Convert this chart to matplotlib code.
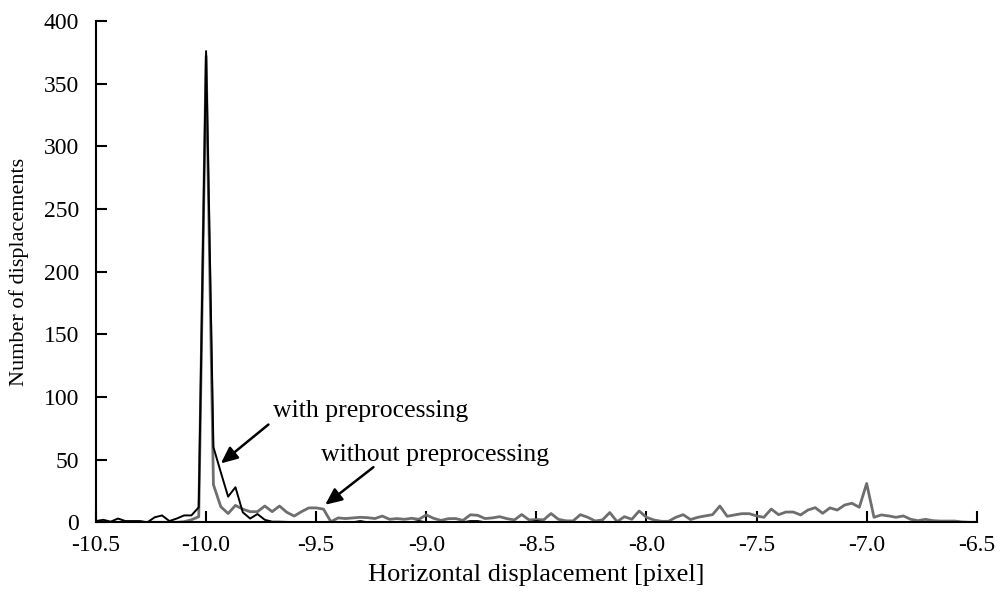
import numpy as np
import matplotlib.pyplot as plt

plt.rcParams['font.family'] = ['Liberation Serif', 'DejaVu Serif']

# bins of 1/30 pixel from -10.5 to -6.5
x = -10.5 + np.arange(121) / 30.0

with_pre = [1, 2, 0.5, 3, 1, 1, 1, 0, 4, 5.5,
            1, 3, 5.5, 5.5, 12, 376, 60, 40, 20.5, 28,
            8, 3, 6.6, 2, 0.5, 0.5, 0.3, 0, 0, 0,
            0, 0, 0, 0, 0, 0, 1, 0, 0, 0,
            0, 0, 0, 0, 1, 0, 0, 0, 0, 0,
            0, 1, 1, 0, 0, 0, 0, 0, 0, 0,
            1, 0, 0, 0, 0, 0, 0, 0, 0, 0,
            0, 0, 0, 0, 0, 0, 0, 0, 0, 0,
            0, 0, 0, 0, 0, 0, 0, 0, 0, 0,
            0, 0, 0, 0, 0, 0, 0, 0, 0, 0,
            0, 0, 0, 0, 0, 0, 0, 0, 0, 0,
            0, 0, 0, 0, 0, 0, 0, 0, 0, 0,
            0]

without_pre = [0, 0, 0, 0, 0, 0, 0, 0, 0, 0,
               0, 0, 0.5, 2, 4.5, 372, 30, 12.5, 7, 13.5,
               10.5, 8.5, 8.5, 13, 8.5, 13, 8, 5, 8.5, 11.5,
               11.5, 10.5, 0.5, 3.5, 3, 3.5, 4, 3.7, 3, 5,
               2.4, 3, 2.4, 3.2, 2.4, 5.9, 3.2, 1.5, 2.9, 3,
               1.5, 6, 5.6, 3, 3.5, 4.5, 2.9, 1.9, 6.2, 1.9,
               2.2, 2, 7, 2.4, 1.2, 1.1, 6.1, 4, 1.1, 1.9,
               7.8, 0.5, 4.5, 2.4, 9, 4, 1.9, 0.8, 0.8, 4,
               6.1, 2.2, 4, 5.1, 6.1, 13, 4.8, 5.9, 6.9, 6.9,
               5.1, 4, 10.6, 6.1, 8.2, 8.2, 5.9, 9.8, 11.7, 7.2,
               11.5, 9.8, 13.8, 15.2, 12, 31, 4, 5.9, 5.1, 4,
               5.1, 2.4, 1.3, 2.4, 1.3, 1, 1, 1, 0.3, 0,
               0]

xticks = [-10.5, -10.0, -9.5, -9.0, -8.5, -8.0, -7.5, -7.0, -6.5]
yticks = [0, 50, 100, 150, 200, 250, 300, 350, 400]

fig = plt.figure(figsize=(10.02, 5.93), dpi=100)
ax = fig.add_axes([0.0958, 0.1192, 0.879, 0.8454])

ax.plot(x, without_pre, color='#6e6e6e', lw=2.0)
ax.plot(x, with_pre, color='black', lw=1.4)

ax.set_xlim(-10.5, -6.5)
ax.set_ylim(0, 400)
ax.set_xticks(xticks)
ax.set_xticklabels(['%.1f' % t for t in xticks])
ax.set_yticks(yticks)

for s in ['top', 'right']:
    ax.spines[s].set_visible(False)
for s in ['left', 'bottom']:
    ax.spines[s].set_linewidth(1.5)
ax.spines['left'].set_zorder(5)
ax.tick_params(direction='in', length=8, width=1.5, labelsize=17)
ax.tick_params(axis='y', pad=12)
ax.tick_params(axis='x', pad=9)

ax.set_xlabel('Horizontal displacement [pixel]', fontsize=19, labelpad=6)
ax.set_ylabel('Number of displacements', fontsize=16, labelpad=11)

arrow = dict(arrowstyle='-|>,head_length=1.0,head_width=0.45', color='black',
             lw=1.8, shrinkA=0, shrinkB=0)
ax.annotate('', xy=(-9.933, 47), xytext=(-9.717, 78), arrowprops=arrow)
ax.annotate('', xy=(-9.459, 14), xytext=(-9.24, 44), arrowprops=arrow)
ax.text(-9.2545, 88.8, 'with preprocessing', fontsize=18.5, ha='center', va='center')
ax.text(-8.959, 53.7, 'without preprocessing', fontsize=18.5, ha='center', va='center')

fig.savefig('out.png', dpi=100)
